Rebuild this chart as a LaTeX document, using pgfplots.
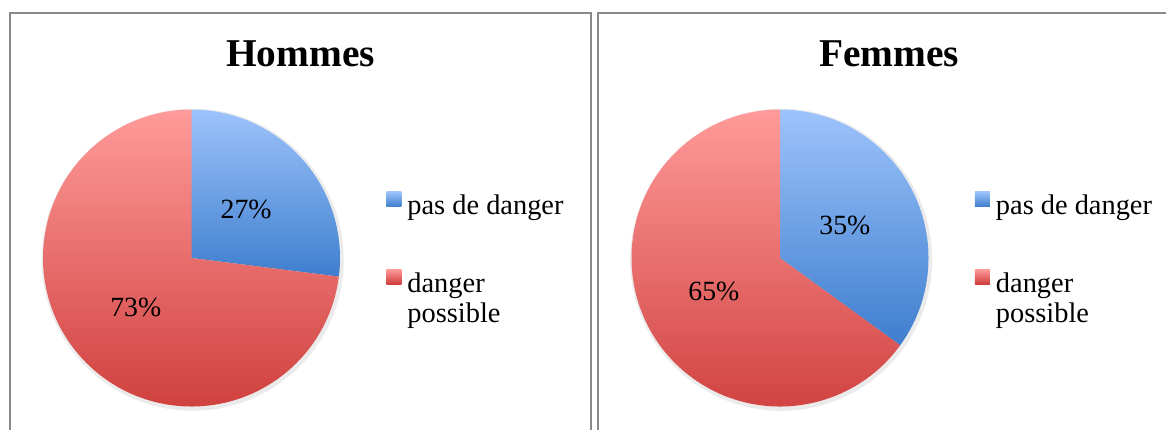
\documentclass[border=0pt]{standalone}
\usepackage{fontspec}
\setmainfont{Liberation Serif}
\usepackage{pgfplots}
\usepackage{pgfplotstable}
\pgfplotsset{compat=1.18}

\definecolor{bluetop}{RGB}{157,195,251}
\definecolor{bluebot}{RGB}{62,126,206}
\definecolor{redtop}{RGB}{255,155,154}
\definecolor{redbot}{RGB}{206,62,60}
\definecolor{framegray}{RGB}{138,138,138}

% share of each answer, in percent
\pgfplotstableread{
part value
{pas de danger} 27
{danger possible} 73
}\hommes
\pgfplotstableread{
part value
{pas de danger} 35
{danger possible} 65
}\femmes

% angles of the two slices, starting at 12 o'clock, clockwise
\newcommand\pieangles[1]{%
  \pgfplotstablegetelem{0}{value}\of#1\pgfmathsetmacro\va{\pgfplotsretval}%
  \pgfplotstablegetelem{1}{value}\of#1\pgfmathsetmacro\vb{\pgfplotsretval}%
  \pgfmathsetmacro\cut{90-360*\va/(\va+\vb)}%
  \pgfmathsetmacro\midA{90-180*\va/(\va+\vb)}%
  \pgfmathsetmacro\midB{\cut-180*\vb/(\va+\vb)}%
  \pgfmathtruncatemacro\pa{\va}\pgfmathtruncatemacro\pb{\vb}%
}
\def\R{74.25pt}

\tikzset{pielabel/.style={font=\fontsize{13.9}{16}\selectfont}}
\pgfplotsset{
  pie/.style={hide axis, scale only axis, width=148.5pt, height=148.5pt,
    xmin=-1, xmax=1, ymin=-1, ymax=1, clip=false,
    title style={font=\bfseries\fontsize{19.7}{22}\selectfont,
      at={(0.867,1.104)}, anchor=base},
    legend style={at={(1.155,0.729)}, anchor=north west, draw=none,
      fill=none, inner sep=0pt, row sep=23pt, column sep=1pt,
      font=\fontsize{14.2}{15}\selectfont},
    legend cell align=left}
}

\newcommand\piebody{%
  \fill[black, opacity=0.08] (axis cs:0.008,-0.012) circle[radius=75.5pt];
  \shade[top color=bluetop, bottom color=bluebot]
    (axis cs:0,0) -- (axis cs:0,1) arc[start angle=90, end angle=\cut, radius=\R] -- cycle;
  \shade[top color=redtop, bottom color=redbot]
    (axis cs:0,0) -- (axis cs:{cos(\cut)},{sin(\cut)}) arc[start angle=\cut, end angle=-270, radius=\R] -- cycle;
  \node[pielabel] at (axis cs:{0.49*cos(\midA)},{0.49*sin(\midA)}) {\pa\%};
  \node[pielabel] at (axis cs:{0.5*cos(\midB)},{0.5*sin(\midB)}) {\pb\%};
  \addlegendimage{legend image code/.code={\shade[draw=none, top color=bluetop, bottom color=bluebot] (0pt,-0.5pt) rectangle (7.5pt,7pt);}}
  \addlegendentry{pas de danger}
  \addlegendimage{legend image code/.code={\shade[draw=none, top color=redtop, bottom color=redbot] (0pt,-0.5pt) rectangle (7.5pt,7pt);}}
  \addlegendentry{\begin{tabular}[t]{@{}l@{}}danger\\possible\end{tabular}}
}

\begin{document}
\begin{tikzpicture}
\useasboundingbox (0pt,0pt) rectangle (583pt,-214.5pt);
\draw[framegray, line width=0.7pt] (5pt,-6.5pt) rectangle (295.5pt,-240pt);
\draw[framegray, line width=0.7pt] (299pt,-6.5pt) rectangle (600pt,-240pt);

\pieangles{\hommes}
\begin{axis}[pie, at={(95.75pt,-129pt)}, anchor=center, title={Hommes}]
\piebody
\end{axis}

\pieangles{\femmes}
\begin{axis}[pie, at={(390pt,-129pt)}, anchor=center, title={Femmes}]
\piebody
\end{axis}
\end{tikzpicture}
\end{document}
